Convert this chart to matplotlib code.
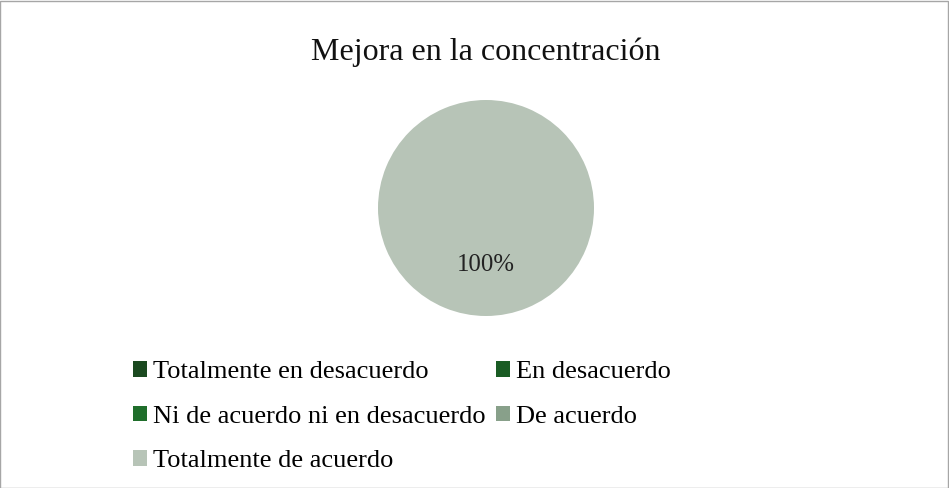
import matplotlib
matplotlib.use("Agg")
import matplotlib.pyplot as plt
from matplotlib.patches import Rectangle
import numpy as np

plt.rcParams['font.family'] = ['Liberation Serif', 'DejaVu Serif']

title = "Mejora en la concentración"
categories = ["Totalmente en desacuerdo", "En desacuerdo",
              "Ni de acuerdo ni en desacuerdo", "De acuerdo",
              "Totalmente de acuerdo"]
values = [0, 0, 0, 0, 100]
colors = ["#1b4a20", "#1a5c24", "#1f6e2b", "#88a08a", "#b7c4b7"]

fig = plt.figure(figsize=(9.49, 4.88), dpi=100)
fig.patch.set_facecolor("white")
fig.add_artist(Rectangle((0.0005, 0.001), 0.998, 0.997, transform=fig.transFigure,
                         fill=False, edgecolor="#a6a6a6", linewidth=1.0))

ax = fig.add_axes([(486 - 108) / 949, 1 - (208 + 108) / 488, 216 / 949, 216 / 488])
total = sum(values)
wedges, _ = ax.pie(values, colors=colors, startangle=90, counterclock=False,
                   wedgeprops=dict(linewidth=0))
for w, v in zip(wedges, values):
    if v > 0:
        ang = np.deg2rad((w.theta1 + w.theta2) / 2)
        r = 0.53
        ax.text(r * np.cos(ang), r * np.sin(ang), f"{v / total * 100:.0f}%",
                ha="center", va="center", fontsize=17.8, color="#222222")
ax.set_xlim(-1, 1)
ax.set_ylim(-1, 1)
ax.set_aspect("equal")

fig.text(486 / 949, 1 - 52 / 488, title, ha="center", va="center",
         fontsize=23, color="#111111")

order = [0, 2, 4, 1, 3]
leg = fig.legend([wedges[i] for i in order], [categories[i] for i in order],
                 ncol=2, loc="upper left", bbox_to_anchor=(133 / 949, 1 - 361 / 488),
                 frameon=False, fontsize=19, handlelength=0.53, handleheight=0.53,
                 handletextpad=0.23, columnspacing=0.38, labelspacing=0.85,
                 borderaxespad=0, borderpad=0)

fig.savefig("out.png", dpi=100, facecolor="white")
